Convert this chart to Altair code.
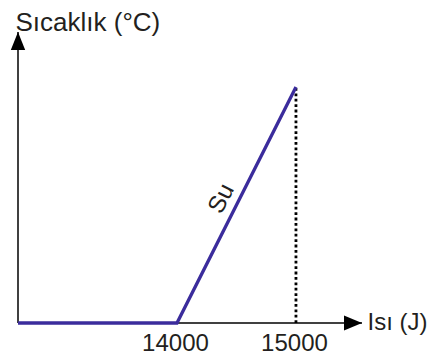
import altair as alt
import pandas as pd

# data
heat = [12664, 14000, 15000]      # J (axis is not to scale before 14000)
temp = [0, 0, 100]                # °C
x_ticks = [14000, 15000]
x_domain = [12664, 15555]
y_domain = [0, 123.3]
series_label = "Su"
label_pos = [14500, 50]

FONT = "Liberation Sans"
TXT = "#231f20"
PURPLE = "#3b2c9c"
W, H = 344, 291

line_df = pd.DataFrame({"heat": heat, "temp": temp})
drop_df = pd.DataFrame({"heat": [heat[2], heat[2]], "temp": [temp[0], temp[2]]})
xaxis_df = pd.DataFrame({"heat": [x_domain[0]], "heat2": [x_domain[1]], "temp": [0]})
yaxis_df = pd.DataFrame({"heat": [x_domain[0]], "temp": [y_domain[0]], "temp2": [y_domain[1]]})
xhead_df = pd.DataFrame({"heat": [x_domain[1]], "temp": [0]})
yhead_df = pd.DataFrame({"heat": [x_domain[0]], "temp": [y_domain[1]]})
label_df = pd.DataFrame({"heat": [label_pos[0]], "temp": [label_pos[1]], "t": [series_label]})

xs = alt.Scale(domain=x_domain, nice=False, zero=False)
ys = alt.Scale(domain=y_domain, nice=False, zero=False)

x_axis = alt.Axis(values=x_ticks, domain=False, ticks=False, grid=False, format="d",
                  labelFontSize=24, labelFont=FONT, labelColor=TXT, labelPadding=8,
                  labelFlush=False, labelOffset=-2,
                  title="Isı (J)", titleFont=FONT, titleFontSize=24, titleFontWeight="normal",
                  titleColor=TXT, titleAngle=0, titleAlign="left", titleBaseline="middle",
                  titleX=349, titleY=-1)
y_axis = alt.Axis(domain=False, ticks=False, labels=False, grid=False,
                  title="Sıcaklık (°C)", titleFont=FONT, titleFontSize=26,
                  titleFontWeight="normal", titleColor=TXT, titleAngle=0,
                  titleAlign="left", titleBaseline="alphabetic", titleX=-3, titleY=-2)

X = alt.X("heat:Q", scale=xs, axis=x_axis)
Y = alt.Y("temp:Q", scale=ys, axis=y_axis)

xrule = alt.Chart(xaxis_df).mark_rule(color="black", strokeWidth=1.5).encode(
    x=X, x2="heat2:Q", y=Y)
yrule = alt.Chart(yaxis_df).mark_rule(color="black", strokeWidth=1.5).encode(
    x=X, y=Y, y2="temp2:Q")

xhead = alt.Chart(xhead_df).mark_point(
    shape="M0,0 L-1,-0.42 L-1,0.42 Z", size=1296, filled=True, color="black",
    opacity=1, strokeWidth=0).encode(x=X, y=Y)
yhead = alt.Chart(yhead_df).mark_point(
    shape="M0,0 L0.4,1 L-0.4,1 Z", size=1296, filled=True, color="black",
    opacity=1, strokeWidth=0).encode(x=X, y=Y)

drop = alt.Chart(drop_df).mark_line(color="black", strokeWidth=2.8,
                                    strokeDash=[2.8, 2.6]).encode(x=X, y=Y)
line = alt.Chart(line_df).mark_line(color=PURPLE, strokeWidth=3.3).encode(x=X, y=Y)

label = alt.Chart(label_df).mark_text(
    font=FONT, fontSize=24, color=TXT, angle=296.8, align="center",
    baseline="middle", dy=-16, dx=-1).encode(x=X, y=Y, text="t:N")

chart = alt.layer(xrule, yrule, drop, line, xhead, yhead, label).properties(
    width=W, height=H,
    background="white",
    autosize=alt.AutoSizeParams(type="none"),
    padding={"left": 10, "top": 24, "right": 67, "bottom": 32},
).configure_view(stroke=None)

chart.save("out.html", embed_options={"renderer": "svg", "actions": False})
